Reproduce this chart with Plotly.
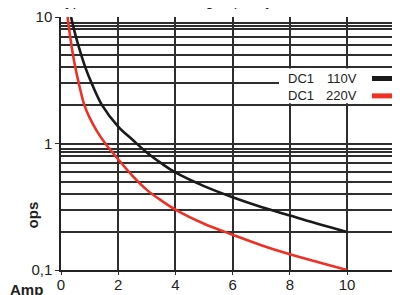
import plotly.graph_objects as go

# Data
x_110 = [0.35, 0.52, 0.71, 0.85, 1.07, 1.44, 2.0, 2.5, 3.0, 3.5, 4.0, 5.0, 6.0, 7.0, 8.0, 9.0, 10.0]
y_110 = [10, 7, 5, 4, 3, 2, 1.36, 1.07, 0.85, 0.7, 0.59, 0.46, 0.376, 0.315, 0.27, 0.231, 0.2]

x_220 = [0.23, 0.32, 0.42, 0.5, 0.62, 0.82, 1.0, 1.25, 1.55, 2.0, 2.5, 3.0, 3.5, 4.0, 5.0, 6.0, 7.0, 8.0, 9.0, 10.0]
y_220 = [10, 7, 5, 4, 3, 2, 1.6, 1.26, 1.0, 0.75, 0.555, 0.43, 0.355, 0.3, 0.232, 0.19, 0.157, 0.133, 0.115, 0.1]

series_names = ["DC1", "DC1"]
series_volts = ["110V", "220V"]
series_colors = ["#1a1a1a", "#ee3124"]

x_ticks = [0, 2, 4, 6, 8, 10]
y_major = [0.1, 1, 10]
y_major_text = ["0,1", "1", "10"]
y_minor = [0.2, 0.3, 0.4, 0.5, 0.6, 0.7, 0.8, 0.85, 0.9,
           2, 3, 4, 5, 6, 7, 8, 8.5, 9]

FONT = "Liberation Sans, Arial, sans-serif"
GRID = "#2e2e2e"

fig = go.Figure()
fig.add_trace(go.Scatter(x=x_110, y=y_110, mode="lines", showlegend=False,
                         line=dict(color=series_colors[0], width=2.6, shape="spline", smoothing=1.0)))
fig.add_trace(go.Scatter(x=x_220, y=y_220, mode="lines", showlegend=False,
                         line=dict(color=series_colors[1], width=2.6, shape="spline", smoothing=1.0)))

OFF = 8  # page body margin
W, H = 400, 295
L, T = 61 - OFF, 15 - OFF
PLOT_BOTTOM = 270 - OFF
B = H - PLOT_BOTTOM
pw, ph = W - L, H - T - B


def px(xp):
    return (xp - OFF - L) / pw


def py(yp):
    return 1 - (yp - OFF - T) / ph


fig.update_layout(
    width=W, height=H,
    margin=dict(l=L, r=0, t=T, b=B, pad=0),
    paper_bgcolor="white", plot_bgcolor="white",
    font=dict(family=FONT, size=15, color="#222"),
    xaxis=dict(range=[0, pw / 28.6], tickvals=x_ticks, ticks="outside", ticklen=3,
               tickcolor=GRID, showgrid=True, gridcolor=GRID, gridwidth=1.5,
               zeroline=False, showline=True, linecolor="#222", linewidth=1.6,
               ticklabelstandoff=-3, ticklabeloverflow="allow",
               tickfont=dict(size=15, family=FONT, color="#222")),
    yaxis=dict(type="log", range=[-1, 1], tickvals=y_major, ticktext=y_major_text,
               ticks="outside", ticklen=4, tickcolor=GRID, showgrid=True,
               gridcolor=GRID, gridwidth=1.5, zeroline=False, showline=True,
               linecolor="#222", linewidth=1.5, ticklabeloverflow="allow",
               tickfont=dict(size=15, family=FONT, color="#222"),
               minor=dict(tickvals=y_minor, showgrid=True, gridcolor=GRID,
                          gridwidth=1.5, ticks="")),
)

# legend box (white) covering the grid
fig.add_shape(type="rect", xref="paper", yref="paper",
              x0=px(279), x1=1.0, y0=py(102), y1=py(67),
              fillcolor="white", line=dict(width=0), layer="above")

rows_y = [77, 94.5]
for i in range(2):
    fig.add_annotation(xref="paper", yref="paper", x=px(286), y=py(rows_y[i]),
                       text=series_names[i], showarrow=False, xanchor="left", yanchor="middle",
                       font=dict(size=13, family=FONT, color="#222"))
    fig.add_annotation(xref="paper", yref="paper", x=px(359), y=py(rows_y[i]),
                       text=series_volts[i], showarrow=False, xanchor="right", yanchor="middle",
                       font=dict(size=13, family=FONT, color="#222"))
    fig.add_shape(type="line", xref="paper", yref="paper",
                  x0=px(372), x1=px(395), y0=py(rows_y[i]), y1=py(rows_y[i]),
                  line=dict(color=series_colors[i], width=5), layer="above")

# axis titles
fig.add_annotation(xref="paper", yref="paper", x=px(32), y=py(215), text="<b>ops</b>",
                   textangle=-90, showarrow=False, xanchor="center", yanchor="middle",
                   font=dict(size=15, family=FONT, color="#222"))
fig.add_annotation(xref="paper", yref="paper", x=px(8), y=py(290), text="<b>Amp</b>",
                   showarrow=False, xanchor="left", yanchor="middle",
                   font=dict(size=15, family=FONT, color="#222"))

# partially visible title at the top (clipped by the page edge)
fig.add_annotation(xref="paper", yref="paper", x=px(55), y=py(9),
                   text="Types of DC1 switching capacity curves", showarrow=False,
                   xanchor="left", yanchor="bottom",
                   font=dict(size=15, family=FONT, color="#222"))

fig.write_html("out.html")
